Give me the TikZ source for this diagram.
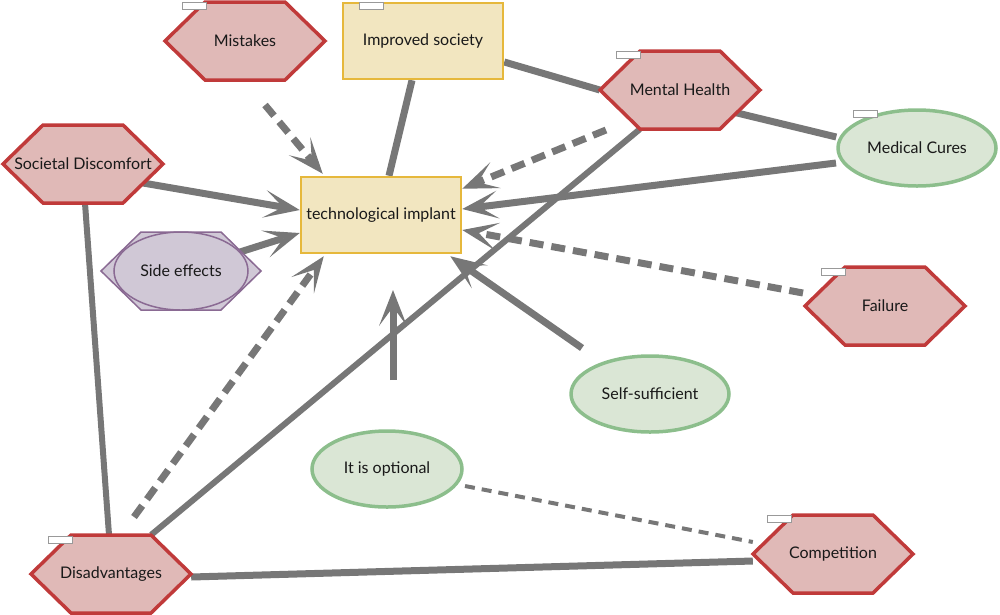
\documentclass[tikz,border=0pt]{standalone}
\usepackage{fontspec}
\setmainfont{Lato}
\usetikzlibrary{arrows.meta, shapes.geometric, backgrounds}

\definecolor{redfill}{HTML}{E0B9B7}
\definecolor{redline}{HTML}{C03A3A}
\definecolor{yelfill}{HTML}{F2E6C0}
\definecolor{yelline}{HTML}{E6B83C}
\definecolor{greenfill}{HTML}{DAE6D5}
\definecolor{greenline}{HTML}{8CBE8C}
\definecolor{purplefill}{HTML}{D0C8D6}
\definecolor{purpleline}{HTML}{8A6A93}
\definecolor{linkgray}{HTML}{777777}

\tikzset{
  label text/.style={font=\fontsize{16}{18}\selectfont, text=black!90},
  hexbox/.style={label text, minimum width=160pt, minimum height=78pt, inner sep=0pt},
  hexred/.style={draw=redline, fill=redfill, line width=3.5pt},
  hexpurple/.style={draw=purpleline, fill=purplefill, line width=1.5pt},
  rectbox/.style={label text, rectangle, draw=yelline, fill=yelfill, line width=2.5pt, minimum width=160pt, minimum height=76pt, inner sep=2pt},
  ellbox/.style={label text, ellipse, draw=greenline, fill=greenfill, line width=3.5pt, minimum width=158pt, minimum height=76pt, inner sep=0pt},
  tab/.style={draw=gray!80, fill=white, line width=0.8pt},
  link/.style={draw=linkgray, line width=7pt},
  dashlink/.style={link, dash pattern=on 14pt off 8pt},
  thinlink/.style={draw=linkgray, line width=4pt, dash pattern=on 10pt off 7pt},
  tip/.style={-{Stealth[length=36pt, width=28pt, inset=19pt, line width=0pt]}},
}

% hexagon: style, name, x, y, text
\newcommand{\hexnode}[5]{%
  \draw[#1] (#3-80,#4) -- ++(40,39) -- ++(80,0) -- ++(40,-39) -- ++(-40,-39) -- ++(-80,0) -- cycle;
  \node[hexbox] (#2) at (#3,#4) {#5};
}

\begin{document}
\begin{tikzpicture}[x=1pt, y=1pt]
    \useasboundingbox (0,0) rectangle (1000,-614);

    % Central concept
    \node[rectbox] (tech) at (381,-215) {technological implant};
    \node[rectbox] (impr) at (423,-41) {Improved society};

    % Hexagons
    \hexnode{hexred}{mist}{245}{-41}{Mistakes}
    \hexnode{hexred}{ment}{680}{-90}{Mental Health}
    \hexnode{hexred}{soc}{83}{-164}{Societal Discomfort}
    \hexnode{hexred}{fail}{885}{-306}{Failure}
    \hexnode{hexred}{disadv}{111}{-574}{Disadvantages}
    \hexnode{hexred}{comp}{833}{-554}{Competition}

    % Side effects (hexagon with ellipse)
    \draw[hexpurple] (181-80,-271) -- ++(40,39) -- ++(80,0) -- ++(40,-39) -- ++(-40,-39) -- ++(-80,0) -- cycle;
    \node[label text, ellipse, draw=purpleline, fill=purplefill, line width=1.5pt, minimum width=134pt, minimum height=78pt, inner sep=0pt] (side) at (181,-271) {Side effects};

    % Ellipses
    \node[ellbox] (medc) at (917,-148) {Medical Cures};
    \node[ellbox] (self) at (650,-394) {Self-sufficient};
    \node[ellbox, minimum width=150pt] (opt) at (387,-469) {It is optional};

    % Free ends of the connectors
    \coordinate (mistTail) at (265,-105);
    \coordinate (mentTail) at (606,-130);
    \coordinate (medcTail) at (836,-163);
    \coordinate (failTail) at (803,-293);
    \coordinate (selfTail) at (582,-348);
    \coordinate (optTail) at (393,-380);
    \coordinate (optTip) at (393,-290);
    \coordinate (disTail) at (134,-517);
    \coordinate (socTail) at (143,-183);
    \coordinate (sideTail) at (240,-252);
    \coordinate (optLine) at (465,-486);

    % Connectors behind the shapes
    \begin{pgfonlayer}{background}
    \draw[link] ([xshift=-11pt]impr.south) -- ([xshift=8pt]tech.north);
    \draw[link] ([yshift=-21pt]impr.east) -- (ment.west);
    \draw[link, line width=6pt] ([xshift=40pt]ment.south west) -- ([xshift=-40pt]disadv.north east);
    \draw[link] ([shift={(20pt,-14pt)}]ment.center) -- ([yshift=11pt]medc.west);
    \draw[link, line width=6pt] ([xshift=2pt]soc.south) -- ([xshift=-2pt]disadv.north);
    \draw[link] ([yshift=-3pt]disadv.east) -- ([yshift=-7pt]comp.west);
    \draw[thinlink] (optLine) -- ([yshift=12pt]comp.west);

    \draw[dashlink, tip] (mistTail) -- ([shift={(23pt,2pt)}]tech.north west);
    \draw[dashlink, tip] (mentTail) -- ([yshift=-13pt]tech.north east);
    \draw[link, tip] (medcTail) -- ([yshift=6pt]tech.east);
    \draw[dashlink, tip] (failTail) -- ([yshift=-15pt]tech.east);
    \draw[link, tip] (selfTail) -- ([shift={(-12pt,-2pt)}]tech.south east);
    \draw[link, tip] (optTail) -- (optTip);
    \draw[dashlink, tip] (disTail) -- ([shift={(24pt,-2pt)}]tech.south west);
    \draw[link, tip] (socTail) -- ([yshift=5pt]tech.west);
    \draw[link, tip] (sideTail) -- ([yshift=-18pt]tech.west);
    \end{pgfonlayer}

    % Small tabs
    \foreach \tx/\ty in {182/-2, 359/-2, 616/-51, 853/-110, 821/-268, 48/-536, 767/-515}
        \draw[tab] (\tx,\ty) rectangle ++(24,-7);
\end{tikzpicture}
\end{document}
